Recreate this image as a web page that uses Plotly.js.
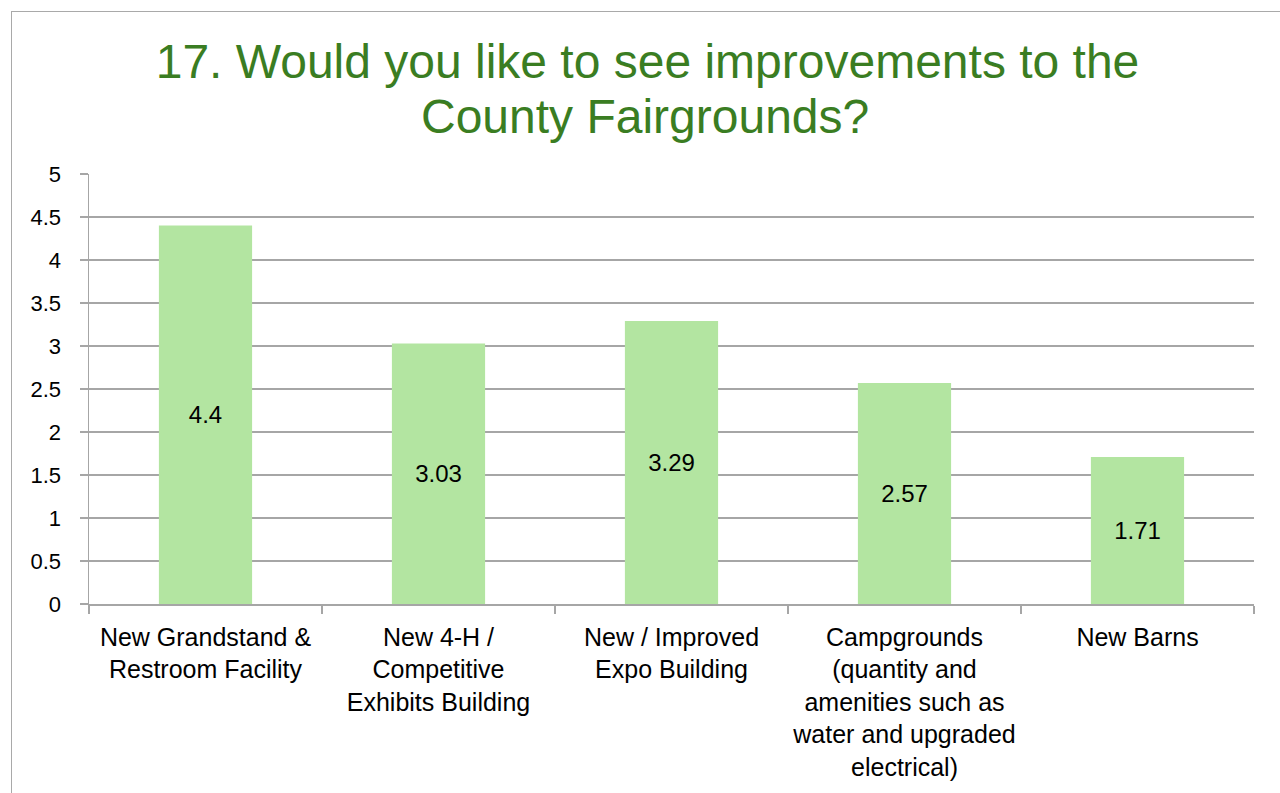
<!DOCTYPE html>
<html>
<head>
<meta charset="utf-8">
<script src="https://cdn.plot.ly/plotly-3.0.1.min.js"></script>
<style>
  html, body { margin: 0; padding: 0; background: #fff; overflow: hidden; }
  #frame { position: absolute; left: 11px; top: 11px; width: 1300px; height: 820px; border: 1px solid #A9A9A9; box-sizing: border-box; pointer-events: none; z-index: 10; }
  #chart { position: absolute; left: 0; top: 0; width: 1280px; height: 793px; z-index: 1; }
</style>
</head>
<body>
<div id="chart"></div>
<div id="frame"></div>
<script>
const categories = [
  "New Grandstand &<br>Restroom Facility",
  "New 4-H /<br>Competitive<br>Exhibits Building",
  "New / Improved<br>Expo Building",
  "Campgrounds<br>(quantity and<br>amenities such as<br>water and upgraded<br>electrical)",
  "New Barns"
];
const values = [4.4, 3.03, 3.29, 2.57, 1.71];
const valueLabels = ["4.4", "3.03", "3.29", "2.57", "1.71"];
const yTicks = [0, 0.5, 1, 1.5, 2, 2.5, 3, 3.5, 4, 4.5, 5];
const yTickLabels = ["0", "0.5", "1", "1.5", "2", "2.5", "3", "3.5", "4", "4.5", "5"];
const titleLine1 = "17. Would you like to see improvements to the";
const titleLine2 = "County Fairgrounds?";

const FONT = "Liberation Sans, Arial, sans-serif";
const TITLE_GREEN = "#3A7D22";

const trace = {
  type: "bar",
  x: categories,
  y: values,
  text: valueLabels,
  textposition: "inside",
  insidetextanchor: "middle",
  textangle: 0,
  insidetextfont: { family: FONT, size: 24, color: "#000000" },
  marker: { color: "#B3E5A1", line: { width: 0 } },
  hoverinfo: "none",
  cliponaxis: false
};

// plot area: x 89..1254, y 174..604 (page px)
const plotTop = 174, plotBottom = 604;
function paperY(px) { return (plotBottom - px) / (plotBottom - plotTop); }
function paperX(px) { return (px - 89) / (1254 - 89); }

const layout = {
  width: 1280,
  height: 793,
  margin: { l: 89, r: 26, t: 174, b: 189, pad: 0 },
  paper_bgcolor: "rgba(0,0,0,0)",
  plot_bgcolor: "rgba(0,0,0,0)",
  bargap: 0.6,
  showlegend: false,
  font: { family: FONT, color: "#000000" },
  title: {
    text: titleLine1,
    font: { family: FONT, size: 48, color: TITLE_GREEN },
    x: 647.5 / 1280,
    xanchor: "center",
    xref: "container",
    yref: "container",
    y: 1 - 61 / 793,
    yanchor: "middle"
  },
  annotations: [{
    text: titleLine2,
    xref: "paper",
    yref: "paper",
    x: paperX(644.5),
    y: paperY(116),
    xanchor: "center",
    yanchor: "middle",
    showarrow: false,
    font: { family: FONT, size: 48, color: TITLE_GREEN }
  }],
  xaxis: {
    type: "category",
    showline: true,
    linecolor: "#A6A6A6",
    linewidth: 1.5,
    ticks: "outside",
    tickson: "boundaries",
    ticklen: 8,
    tickcolor: "#A6A6A6",
    tickwidth: 1.5,
    showgrid: false,
    ticklabelstandoff: 10,
    tickfont: { family: FONT, size: 25, color: "#000000" },
    automargin: false
  },
  yaxis: {
    range: [0, 5],
    tickvals: yTicks,
    ticktext: yTickLabels,
    showline: true,
    linecolor: "#A6A6A6",
    linewidth: 1.5,
    ticks: "outside",
    ticklen: 8,
    tickcolor: "#A6A6A6",
    tickwidth: 1.5,
    showgrid: true,
    gridcolor: "#A6A6A6",
    gridwidth: 1.2,
    zeroline: false,
    ticklabelstandoff: 14,
    tickfont: { family: FONT, size: 22, color: "#000000" },
    automargin: false
  }
};

Plotly.newPlot("chart", [trace], layout, { displayModeBar: false, staticPlot: true });
</script>
</body>
</html>
